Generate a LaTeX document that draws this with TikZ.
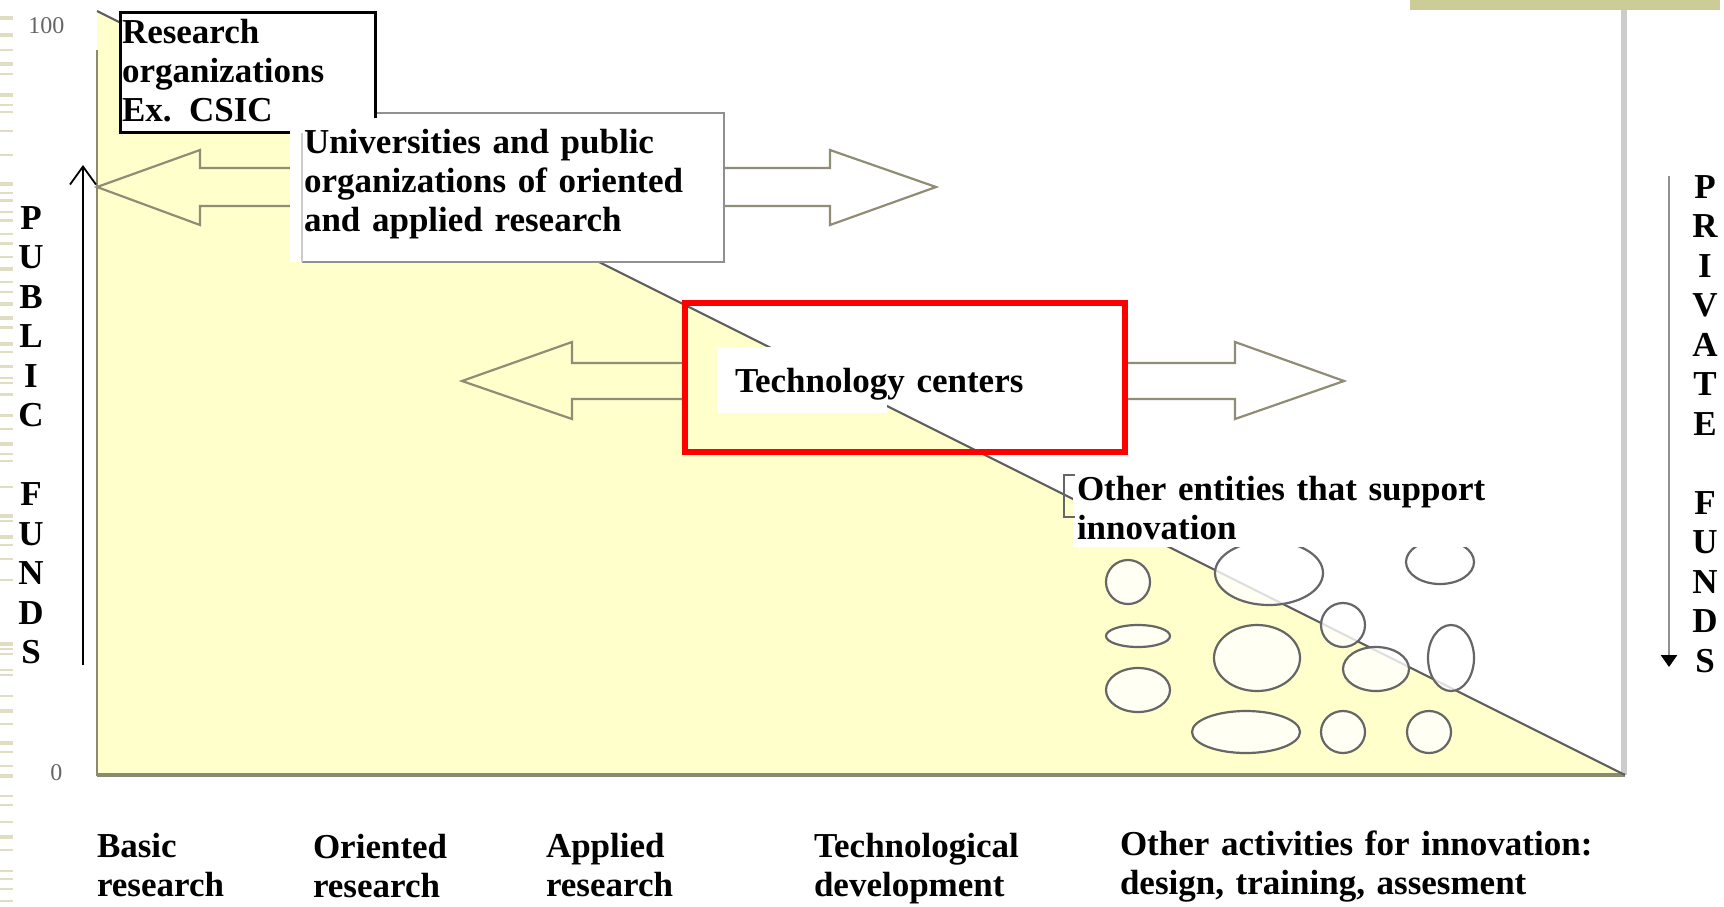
\documentclass[tikz,border=0pt]{standalone}
\usepackage{fontspec}
\setmainfont{Liberation Serif}
\usetikzlibrary{arrows.meta}
\definecolor{ylw}{HTML}{FFFFCC}
\definecolor{olv}{HTML}{CCCC99}
\definecolor{strp}{HTML}{DFDEC2}
\definecolor{arrc}{HTML}{8F8D75}
\definecolor{edgec}{HTML}{8A8A70}
\definecolor{diagc}{HTML}{606060}
\definecolor{ellc}{HTML}{666666}
\definecolor{boxg}{HTML}{909090}
\definecolor{rgray}{HTML}{CCCCCC}
\definecolor{numc}{HTML}{666666}
\begin{document}
\begin{tikzpicture}[x=0.5pt,y=-0.5pt,
  lbl/.style={font=\bfseries\fontsize{17.5pt}{19.5pt}\selectfont, inner sep=0pt, outer sep=0pt, text width=260pt, align=left, anchor=base west},
  vlet/.style={font=\bfseries\fontsize{17.5pt}{19.75pt}\selectfont, inner sep=0pt, outer sep=0pt, text width=16pt, align=center, anchor=base},
  blockarrow/.style={draw=arrc, line width=1.1pt, line join=miter},
  ell/.style={draw=ellc, line width=1.1pt, fill=white, fill opacity=0.8},
  num/.style={font=\fontsize{12pt}{14pt}\selectfont, text=numc, inner sep=0pt, anchor=base west}]
\useasboundingbox (0,0) rectangle (1724,906);
\fill[white] (0,0) rectangle (1724,906);
% left decorative stripes
\foreach \yy/\tt in {16/4,33/4,49/2,62/4,73/2,93/4,104/2,111/2,130/2,154/2,182/4,192/2,199/3,211/2,219/3,233/2,242/3,256/2,267/4,281/2,291/2,302/4,316/4,326/3,342/4,351/2,365/3,377/2,382/2,393/3,414/3,428/2,442/4,453/2,460/2,486/2,514/4,520/2,535/4,544/2,558/2,579/2,642/4,648/2,653/2,669/2,674/2,695/2,709/4,723/2,741/4,751/2,765/2,774/4,795/2,804/2,821/2,835/4,849/2,870/2,878/2,888/2,900/2}
  \fill[strp] (0,\yy) rectangle (13,\yy+\tt);
% top-right band and right gray line
\fill[olv] (1410,0) rectangle (1720,10);
\draw[rgray, line width=3pt] (1624,10) -- (1624,775);
% yellow triangle
\fill[ylw] (97,11) -- (97,775) -- (1625,775) -- cycle;
\draw[edgec, line width=1pt] (97,50) -- (97,776);
\draw[edgec, line width=1.6pt] (97,775) -- (1625,775);
\draw[diagc, line width=1.1pt] (97,11) -- (1625,775);
% ellipses
\draw[ell] (1128,582) ellipse [x radius=11pt, y radius=11pt];
\draw[ell] (1138,636) ellipse [x radius=16pt, y radius=5.5pt];
\draw[ell] (1138,690) ellipse [x radius=16pt, y radius=11pt];
\draw[ell] (1269,573) ellipse [x radius=27pt, y radius=16pt];
\draw[ell] (1440,562) ellipse [x radius=17pt, y radius=11pt];
\draw[ell] (1343,625) ellipse [x radius=11pt, y radius=11pt];
\draw[ell] (1257,658) ellipse [x radius=21.5pt, y radius=16.5pt];
\draw[ell] (1376,669) ellipse [x radius=16.5pt, y radius=11pt];
\draw[ell] (1451,658) ellipse [x radius=11.5pt, y radius=16.5pt];
\draw[ell] (1246,732) ellipse [x radius=27pt, y radius=10.5pt];
\draw[ell] (1343,732) ellipse [x radius=11pt, y radius=10.5pt];
\draw[ell] (1429,732) ellipse [x radius=11pt, y radius=10.5pt];
% block arrows of the universities box
\draw[blockarrow] (302,168) -- (200,168) -- (200,150) -- (97,187) -- (200,225) -- (200,206) -- (302,206);
\draw[blockarrow] (724,168) -- (830,168) -- (830,150) -- (936,187) -- (830,225) -- (830,206) -- (724,206);
% block arrows of the technology centers box
\draw[blockarrow] (685,363) -- (572,363) -- (572,342) -- (462,381) -- (572,419) -- (572,399) -- (685,399);
\draw[blockarrow] (1125,363) -- (1235,363) -- (1235,342) -- (1344,381) -- (1235,419) -- (1235,399) -- (1125,399);
% research organizations box
\draw[black, line width=1.5pt, fill=white] (120,12) rectangle (375,132);
\node[lbl] (research) at (122,43) {Research\\organizations\\Ex. CSIC};
% universities box
\fill[white] (290,118) rectangle (724,262);
\draw[boxg, line width=1.4pt] (377,113) -- (724,113) -- (724,262) -- (302,262);
\draw[rgray, line width=1.2pt] (302,262) -- (302,133);
\node[lbl] (univ) at (304,153) {Universities and public\\organizations of oriented\\and applied research};
% technology centers
\fill[white] (717,347) rectangle (887,413);
\node[lbl] (tech) at (735,392) {Technology centers};
\draw[red, line width=3pt] (685,303) rectangle (1125,452);
% other entities
\fill[white] (1073,472) rectangle (1505,547);
\draw[ellc, line width=1.2pt] (1075,475) -- (1064,475) -- (1064,517) -- (1075,517);
\node[lbl] (other) at (1077,500) {Other entities that support\\innovation};
% axes
\node[num] (hundred) at (28,33) {100};
\node[num] (zero) at (50,780) {0};
\coordinate (pubbot) at (83,665);
\coordinate (pubtop) at (83,165);
\draw[black, line width=0.9pt, -{Straight Barb[length=9pt,width=13pt]}] (pubbot) -- (pubtop);
\node[vlet] (public) at (31,229) {P\\U\\B\\L\\I\\C\\\mbox{}\\F\\U\\N\\D\\S};
\coordinate (privtop) at (1669,176);
\coordinate (privbot) at (1669,667);
\draw[boxg, line width=1.3pt, -{Triangle[length=6pt,width=8pt,black]}] (privtop) -- (privbot);
\node[vlet] (private) at (1705,198) {P\\R\\I\\V\\A\\T\\E\\\mbox{}\\F\\U\\N\\D\\S};
% activity labels
\node[lbl] (basic) at (97,857) {Basic\\research};
\node[lbl] (oriented) at (313,858) {Oriented\\research};
\node[lbl] (applied) at (546,857) {Applied\\research};
\node[lbl] (techdev) at (814,857) {Technological\\development};
\node[lbl] (otheract) at (1120,855) {Other activities for innovation:\\design, training, assesment};
\end{tikzpicture}
\end{document}
